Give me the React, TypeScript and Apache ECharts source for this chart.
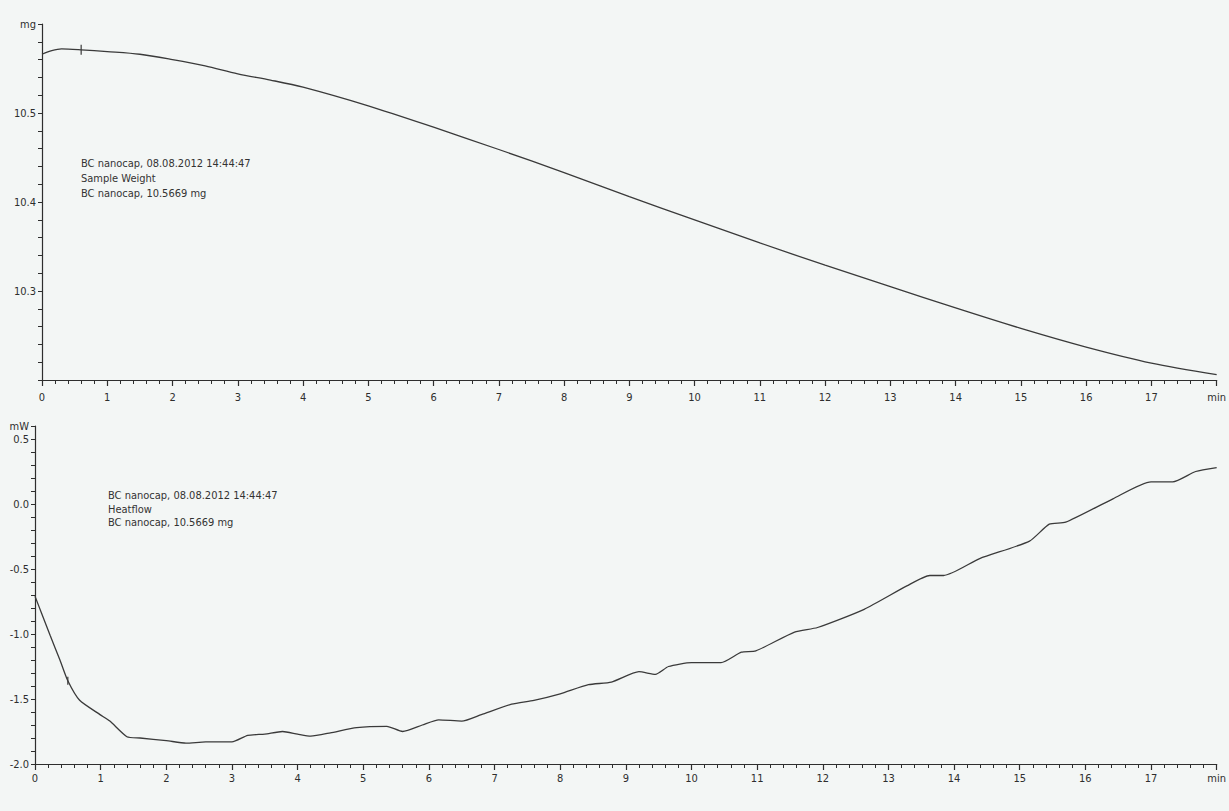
import React, { useEffect, useRef } from "react";
import * as echarts from "echarts";

// Sample weight (mg) vs time (min)
const weightTime = [0, 0.15, 0.3, 0.6, 1, 1.5, 2, 2.5, 3, 3.5, 4, 5, 6, 7, 8, 9, 10, 11, 12, 13, 14, 15, 16, 17, 18];
const weightMg = [10.566, 10.57, 10.572, 10.571, 10.569, 10.566, 10.56, 10.553, 10.544, 10.537, 10.529, 10.508, 10.484, 10.459, 10.433, 10.406, 10.38, 10.354, 10.329, 10.305, 10.281, 10.258, 10.237, 10.219, 10.206];

// Heatflow (mW) vs time (min)
const heatTime = [0, 0.1, 0.23, 0.38, 0.5, 0.68, 0.99, 1.14, 1.4, 1.6, 2.0, 2.3, 2.6, 3.0, 3.24, 3.5, 3.77, 4.0, 4.2, 4.5, 4.9, 5.36, 5.6, 5.9, 6.15, 6.5, 6.8, 7.26, 7.6, 8.0, 8.43, 8.78, 9.2, 9.45, 9.65, 10.0, 10.45, 10.76, 10.98, 11.57, 11.92, 12.63, 13.28, 13.63, 13.84, 14.39, 15.15, 15.45, 15.7, 16.42, 17.0, 17.33, 17.68, 18.0];
const heatMw = [-0.71, -0.84, -1.01, -1.2, -1.36, -1.51, -1.62, -1.67, -1.79, -1.8, -1.82, -1.84, -1.83, -1.83, -1.78, -1.77, -1.75, -1.77, -1.785, -1.76, -1.72, -1.71, -1.75, -1.7, -1.66, -1.67, -1.62, -1.54, -1.51, -1.46, -1.39, -1.37, -1.29, -1.31, -1.25, -1.22, -1.22, -1.14, -1.13, -0.985, -0.95, -0.81, -0.63, -0.55, -0.55, -0.42, -0.285, -0.155, -0.14, 0.04, 0.17, 0.17, 0.25, 0.28];

const weightNotes = ["BC nanocap, 08.08.2012 14:44:47", "Sample Weight", "BC nanocap, 10.5669 mg"];
const heatNotes = ["BC nanocap, 08.08.2012 14:44:47", "Heatflow", "BC nanocap, 10.5669 mg"];

const FONT = "'Liberation Sans Narrow', 'DejaVu Sans Condensed', 'Arial Narrow', sans-serif";
const INK = "#2e2e2e";
const LINE = "#3a3a3a";

export default function App() {
  const ref = useRef<HTMLDivElement>(null);
  useEffect(() => {
    if (!ref.current) return;
    const chart = echarts.init(ref.current, undefined, { renderer: "svg" });
    const xAxisBase = (gridIndex: number, margin: number) => ({
      type: "value",
      gridIndex,
      min: 0,
      max: 18,
      interval: 1,
      axisLine: { show: true, onZero: false, lineStyle: { color: INK, width: 1.2 } },
      axisTick: { show: true, inside: false, length: 6, lineStyle: { color: INK, width: 1.2 } },
      minorTick: { show: true, splitNumber: 5, length: 4, lineStyle: { color: INK, width: 1 } },
      splitLine: { show: false },
      axisLabel: {
        color: INK,
        fontFamily: FONT,
        fontSize: 11,
        margin,
        formatter: (v: number) => (Math.round(v) === 18 ? "min" : String(Math.round(v))),
      },
    });
    const notes = (lines: string[], x: number, y0: number, dy: number) =>
      lines.map((t, i) => ({
        type: "text",
        left: x,
        top: y0 + i * dy,
        style: { text: t, fill: "#333", font: `11px ${FONT}` },
      }));
    chart.setOption({
      animation: false,
      backgroundColor: "#f3f6f5",
      grid: [
        { left: 42, top: 24, width: 1186, height: 356 },
        { left: 35, top: 426, width: 1186, height: 338 },
      ],
      xAxis: [xAxisBase(0, 12), xAxisBase(1, 9)],
      yAxis: [
        {
          type: "value",
          gridIndex: 0,
          min: 10.2,
          max: 10.6,
          interval: 0.02,
          axisLine: { show: true, onZero: false, lineStyle: { color: INK, width: 1.2 } },
          axisTick: { show: true, length: 4, lineStyle: { color: INK, width: 1 } },
          splitLine: { show: false },
          axisLabel: {
            color: INK,
            fontFamily: FONT,
            fontSize: 11,
            margin: 6,
            formatter: (v: number) => {
              const k = Math.round(v * 100);
              if (k === 1060) return "mg";
              if (k === 1020) return "";
              return k % 10 === 0 ? (k / 100).toFixed(1) : "";
            },
          },
        },
        {
          type: "value",
          gridIndex: 1,
          min: -2.0,
          max: 0.6,
          interval: 0.1,
          axisLine: { show: true, onZero: false, lineStyle: { color: INK, width: 1.2 } },
          axisTick: { show: true, length: 4, lineStyle: { color: INK, width: 1 } },
          splitLine: { show: false },
          axisLabel: {
            color: INK,
            fontFamily: FONT,
            fontSize: 11,
            margin: 6,
            formatter: (v: number) => {
              const k = Math.round(v * 10);
              if (k === 6) return "mW";
              return k % 5 === 0 ? (k / 10).toFixed(1) : "";
            },
          },
        },
      ],
      series: [
        {
          type: "line",
          xAxisIndex: 0,
          yAxisIndex: 0,
          data: weightTime.map((t, i) => [t, weightMg[i]]),
          smooth: 0.3,
          showSymbol: false,
          lineStyle: { color: LINE, width: 1.3 },
          markPoint: {
            symbol: "rect",
            symbolSize: [1.2, 10],
            itemStyle: { color: LINE },
            label: { show: false },
            data: [{ coord: [weightTime[3], weightMg[3]] }],
          },
        },
        {
          type: "line",
          xAxisIndex: 1,
          yAxisIndex: 1,
          data: heatTime.map((t, i) => [t, heatMw[i]]),
          smooth: 0.2,
          showSymbol: false,
          lineStyle: { color: LINE, width: 1.3 },
          markPoint: {
            symbol: "rect",
            symbolSize: [1.2, 8],
            itemStyle: { color: LINE },
            label: { show: false },
            data: [{ coord: [heatTime[4], heatMw[4]] }],
          },
        },
      ],
      graphic: [...notes(weightNotes, 81, 158, 15), ...notes(heatNotes, 108, 490, 13.5)],
    });
    return () => chart.dispose();
  }, []);
  return (
    <div
      ref={ref}
      style={{ position: "fixed", left: 0, top: 0, width: 1229, height: 811 }}
    />
  );
}
